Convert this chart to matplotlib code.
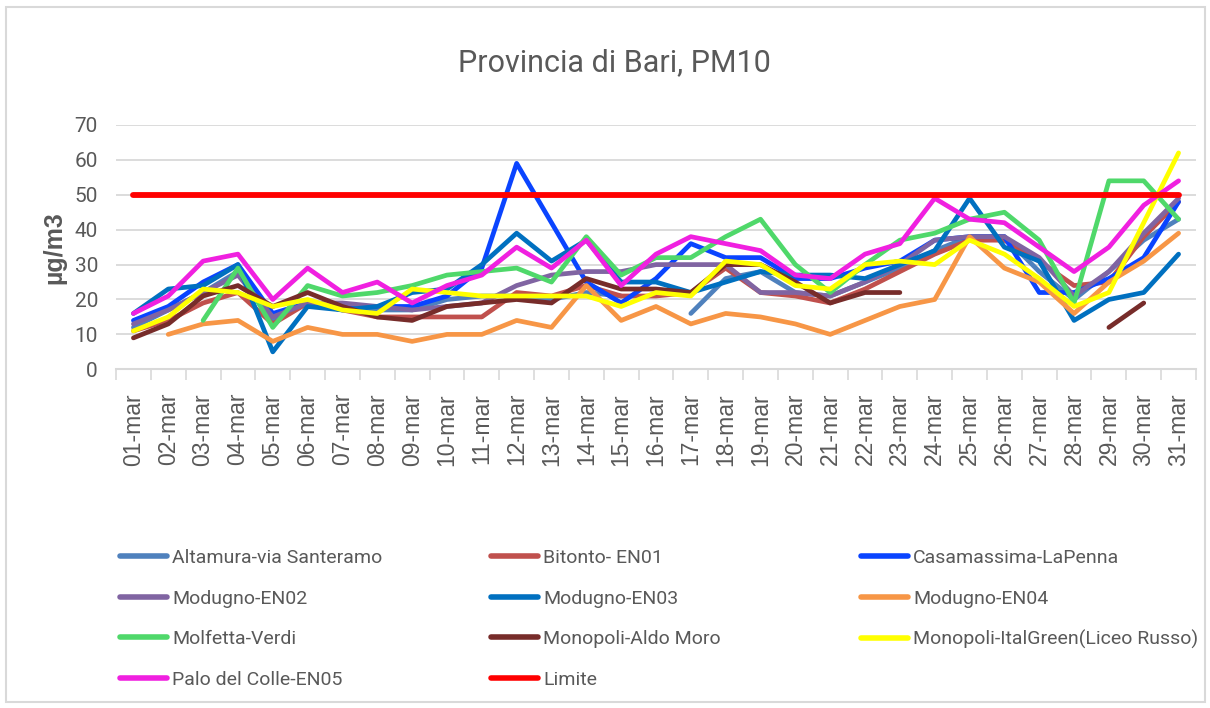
import numpy as np
import matplotlib
matplotlib.use("Agg")
import matplotlib.pyplot as plt
from matplotlib.patches import Rectangle

nan = np.nan
dates = ["%02d-mar" % d for d in range(1, 32)]

altamura = [12, 17, 22, 28, 14, 19, 17, 17, 17, 20, 21, 21, 20, 22, 21, nan, 16, 26, 28, 22, 21, 25, 29, 34, 38, 38, 28, 20, 28, 37, 43]
bitonto = [11, 14, 19, 22, 13, 19, 17, 15, 15, 15, 15, 22, 21, 24, 21, 21, 22, 29, 22, 21, 19, 23, 28, 33, 37, 37, 31, 24, 25, 38, 48]
casamassima = [14, 18, 25, 30, 16, 19, 18, 18, 18, 21, 29, 59, 42, 25, 19, 26, 36, 32, 32, 26, 26, 29, 31, 37, 38, 38, 22, 22, 26, 32, 48]
modugno_en02 = [13, 17, 22, 27, 15, 19, 19, 18, 17, 18, 19, 24, 27, 28, 28, 30, 30, 30, 22, 22, 21, 25, 30, 37, 38, 38, 32, 21, 28, 39, 49]
modugno_en03 = [16, 23, 24, 30, 5, 18, 17, 18, 22, 23, 30, 39, 31, 37, 25, 25, 22, 25, 28, 27, 27, 26, 30, 34, 49, 35, 31, 14, 20, 22, 33]
modugno_en04 = [nan, 10, 13, 14, 8, 12, 10, 10, 8, 10, 10, 14, 12, 24, 14, 18, 13, 16, 15, 13, 10, 14, 18, 20, 38, 29, 25, 16, 25, 31, 39]
molfetta = [nan, nan, 14, 29, 12, 24, 21, 22, 24, 27, 28, 29, 25, 38, 27, 32, 32, 38, 43, 30, 22, 30, 37, 39, 43, 45, 37, 19, 54, 54, 43]
monopoli_am = [9, 13, 21, 24, 18, 22, 18, 15, 14, 18, 19, 20, 19, 26, 23, 23, 22, 30, 30, 25, 19, 22, 22, nan, nan, nan, nan, nan, 12, 19, nan]
monopoli_ig = [11, 15, 23, 22, 18, 20, 17, 16, 23, 22, 21, 21, 21, 21, 18, 22, 21, 31, 30, 24, 23, 30, 31, 30, 37, 33, 26, 18, 22, 42, 62]
palo = [16, 21, 31, 33, 20, 29, 22, 25, 19, 24, 27, 35, 29, 37, 24, 33, 38, 36, 34, 27, 26, 33, 36, 49, 43, 42, 35, 28, 35, 47, 54]
limite = [50] * 31

series_names = ["Altamura-via Santeramo", "Bitonto- EN01", "Casamassima-LaPenna",
                "Modugno-EN02", "Modugno-EN03", "Modugno-EN04",
                "Molfetta-Verdi", "Monopoli-Aldo Moro", "Monopoli-ItalGreen(Liceo Russo)",
                "Palo del Colle-EN05", "Limite"]
series_values = [altamura, bitonto, casamassima, modugno_en02, modugno_en03, modugno_en04,
                 molfetta, monopoli_am, monopoli_ig, palo, limite]
colors = ["#4F81BD", "#C0504D", "#0A44FF", "#8064A2", "#0070C0", "#F79646",
          "#4FD86A", "#772C2A", "#FFFF00", "#F020E0", "#FF0000"]

NARROW = ["Roboto", "DejaVu Sans"]
REG = ["Liberation Sans", "DejaVu Sans"]
TXT = "#595959"

W, H = 1210, 708
fig = plt.figure(figsize=(W / 100, H / 100), dpi=100)
fig.patches.append(Rectangle((6 / W, 6 / H), 1199 / W, 695 / H, transform=fig.transFigure,
                             fill=False, edgecolor="#D9D9D9", linewidth=1.5))

x0, x1, ytop, ybot = 116, 1196, 125, 369.3
ax = fig.add_axes([x0 / W, 1 - ybot / H, (x1 - x0) / W, (ybot - ytop) / H])
x = np.arange(len(dates))
handles = []
for name, vals, c in zip(series_names, series_values, colors):
    lw = 4.2 if name == "Limite" else 3.4
    h, = ax.plot(x, vals, color=c, lw=lw, label=name, solid_capstyle="round", solid_joinstyle="round")
    handles.append(h)

ax.set_xlim(-0.5, len(dates) - 0.5)
ax.set_ylim(0, 70)
ax.set_yticks(range(0, 71, 10))
ax.set_yticklabels([str(v) for v in range(0, 71, 10)], family=NARROW, fontsize=15, color=TXT)
ax.set_xticks(x)
ax.set_xticklabels(dates, rotation=90, family=REG, fontsize=16.5, color=TXT)
ax.set_xticks(np.arange(-0.5, len(dates), 1), minor=True)
ax.tick_params(axis="x", which="major", length=0, pad=17)
ax.tick_params(axis="x", which="minor", length=8, width=1.2, color="#D9D9D9")
ax.tick_params(axis="y", length=0, pad=13)
ax.grid(axis="y", color="#D9D9D9", lw=1.3)
ax.set_axisbelow(True)
for s in ["top", "right", "left"]:
    ax.spines[s].set_visible(False)
ax.spines["bottom"].set_color("#D9D9D9")
ax.spines["bottom"].set_linewidth(1.5)

ax.set_ylabel("µg/m3", family=REG, fontsize=18, fontweight="bold", color=TXT, labelpad=6)
fig.text(614 / W, 1 - 63 / H, "Provincia di Bari, PM10", family=NARROW, fontsize=22,
         color=TXT, ha="center", va="center")

# legend: row-wise order in 3 equal-width columns
col_x = [120, 491, 861]
fs = 14
for ci in range(3):
    idx = list(range(ci, len(handles), 3))
    leg = fig.legend([handles[i] for i in idx], [series_names[i] for i in idx],
                     loc="upper left", bbox_to_anchor=(col_x[ci] / W, 1 - 549 / H),
                     frameon=False, borderpad=0, borderaxespad=0,
                     handlelength=2.42, handletextpad=0.26, labelspacing=1.16,
                     prop={"family": NARROW, "size": fs})
    for t in leg.get_texts():
        t.set_color(TXT)
    for lh in leg.get_lines():
        lh.set_linewidth(4)

fig.savefig("out.png", dpi=100)
